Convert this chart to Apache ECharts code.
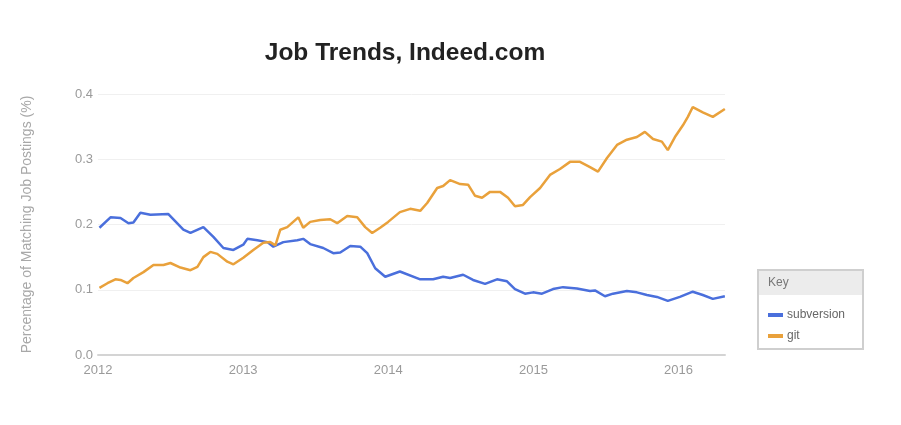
<!DOCTYPE html>
<html>
<head>
<meta charset="utf-8">
<script src="https://cdn.jsdelivr.net/npm/echarts@6/dist/echarts.min.js"></script>
<style>
html,body{margin:0;padding:0;background:#fff;}
#chart{width:901px;height:425px;}
</style>
</head>
<body>
<div id="chart"></div>
<script>
// ---- data ----
var xTickLabels = ['2012', '2013', '2014', '2015', '2016'];
var yTickLabels = ['0.0', '0.1', '0.2', '0.3', '0.4'];

var svnYears = [2012.01,2012.086,2012.155,2012.21,2012.244,2012.292,2012.361,2012.485,2012.588,2012.637,2012.726,2012.795,2012.864,2012.933,
  2013.001,2013.029,2013.098,2013.167,2013.208,2013.277,2013.373,2013.414,2013.462,2013.552,2013.621,2013.669,2013.738,2013.807,2013.855,2013.91,2013.979,
  2014.08,2014.22,2014.309,2014.378,2014.426,2014.516,2014.584,2014.667,2014.749,2014.818,2014.873,2014.942,2014.997,
  2015.059,2015.135,2015.204,2015.3,2015.39,2015.424,2015.493,2015.548,2015.644,2015.713,2015.782,2015.851,2015.926,
  2016.009,2016.098,2016.167,2016.236,2016.319];
var svnValues = [0.195,0.211,0.210,0.202,0.203,0.218,0.215,0.216,0.192,0.187,0.196,0.181,0.164,0.161,
  0.169,0.178,0.176,0.173,0.166,0.173,0.176,0.178,0.170,0.164,0.156,0.157,0.167,0.166,0.156,0.133,0.120,
  0.128,0.116,0.116,0.120,0.118,0.123,0.115,0.109,0.116,0.113,0.101,0.094,0.096,
  0.094,0.101,0.104,0.102,0.098,0.099,0.090,0.094,0.098,0.096,0.092,0.089,0.083,
  0.089,0.097,0.092,0.086,0.090];

var gitYears = [2012.01,2012.065,2012.12,2012.155,2012.203,2012.244,2012.313,2012.382,2012.451,2012.499,2012.568,2012.637,2012.685,2012.726,2012.774,2012.822,2012.891,2012.933,
  2013.001,2013.07,2013.139,2013.187,2013.222,2013.256,2013.304,2013.38,2013.414,2013.462,2013.531,2013.6,2013.648,2013.717,2013.786,2013.841,2013.889,2013.944,2013.999,
  2014.08,2014.151,2014.22,2014.268,2014.337,2014.378,2014.426,2014.495,2014.55,2014.598,2014.646,2014.701,2014.77,2014.825,2014.873,2014.928,2014.977,
  2015.046,2015.114,2015.183,2015.252,2015.321,2015.39,2015.445,2015.507,2015.576,2015.644,2015.713,2015.768,2015.824,2015.885,2015.926,2015.975,
  2016.03,2016.064,2016.098,2016.167,2016.236,2016.319];
var gitValues = [0.103,0.110,0.116,0.115,0.110,0.118,0.127,0.138,0.138,0.141,0.134,0.130,0.135,0.150,0.158,0.155,0.143,0.139,
  0.149,0.161,0.172,0.173,0.168,0.192,0.196,0.211,0.195,0.204,0.207,0.208,0.202,0.213,0.211,0.196,0.187,0.195,0.204,
  0.219,0.224,0.221,0.233,0.256,0.259,0.268,0.262,0.261,0.244,0.241,0.250,0.250,0.241,0.228,0.230,0.242,
  0.256,0.276,0.285,0.296,0.296,0.288,0.281,0.302,0.322,0.330,0.334,0.342,0.331,0.327,0.314,0.334,
  0.352,0.365,0.380,0.372,0.365,0.377];

function pairs(xs, ys) { return xs.map(function (x, i) { return [x, ys[i]]; }); }

var FONT = '"Liberation Sans", Arial, Helvetica, sans-serif';
var chart = echarts.init(document.getElementById('chart'), null, {renderer: 'canvas'});
chart.setOption({
  backgroundColor: '#ffffff',
  animation: false,
  title: {
    text: 'Job Trends, Indeed.com',
    left: 400,
    textAlign: 'center',
    top: 36,
    textStyle: {fontFamily: FONT, fontSize: 24.5, fontWeight: 'bold', color: '#222222'}
  },
  grid: {left: 98, right: 176, top: 94, bottom: 70},
  xAxis: {
    type: 'value',
    min: 2012,
    max: 2016.32,
    interval: 1,
    axisLine: {show: true, lineStyle: {color: '#d4d4d4', width: 2}},
    axisTick: {show: false},
    splitLine: {show: false},
    axisLabel: {
      margin: 9,
      color: '#9a9a9a',
      fontFamily: FONT,
      fontSize: 13,
      showMaxLabel: false,
      formatter: function (v) {
        var i = Math.round(v - 2012);
        return (Math.abs(v - 2012 - i) < 1e-6 && xTickLabels[i]) ? xTickLabels[i] : '';
      }
    }
  },
  yAxis: {
    type: 'value',
    min: 0,
    max: 0.4,
    interval: 0.1,
    name: 'Percentage of Matching Job Postings (%)',
    nameLocation: 'middle',
    nameGap: 64,
    nameTextStyle: {color: '#a8a8a8', fontFamily: FONT, fontSize: 14},
    axisLine: {show: false},
    axisTick: {show: false},
    splitLine: {lineStyle: {color: '#f0f0f0', width: 1}},
    axisLabel: {
      margin: 5,
      color: '#9a9a9a',
      fontFamily: FONT,
      fontSize: 13,
      formatter: function (v) { return yTickLabels[Math.round(v * 10)]; }
    }
  },
  legend: {
    orient: 'vertical',
    left: 763,
    top: 304,
    itemWidth: 15,
    itemHeight: 4,
    itemGap: 9,
    icon: 'rect',
    textStyle: {color: '#666666', fontFamily: FONT, fontSize: 12, padding: [0, 0, 0, -1]},
    data: ['subversion', 'git']
  },
  graphic: [
    {type: 'rect', z: -1, shape: {x: 758, y: 270, width: 105, height: 79},
      style: {fill: '#ffffff', stroke: '#cfcfcf', lineWidth: 2}},
    {type: 'rect', z: -1, shape: {x: 759, y: 271, width: 103, height: 24},
      style: {fill: '#ececec'}},
    {type: 'text', z: 5, x: 768, y: 283,
      style: {text: 'Key', fill: '#777777', font: '12px ' + FONT, textVerticalAlign: 'middle'}}
  ],
  series: [
    {
      name: 'subversion',
      type: 'line',
      data: pairs(svnYears, svnValues),
      showSymbol: false,
      color: '#4a6fdc',
      lineStyle: {width: 2.5, color: '#4a6fdc'}
    },
    {
      name: 'git',
      type: 'line',
      data: pairs(gitYears, gitValues),
      showSymbol: false,
      color: '#e9a13b',
      lineStyle: {width: 2.5, color: '#e9a13b'}
    }
  ]
});
</script>
</body>
</html>
